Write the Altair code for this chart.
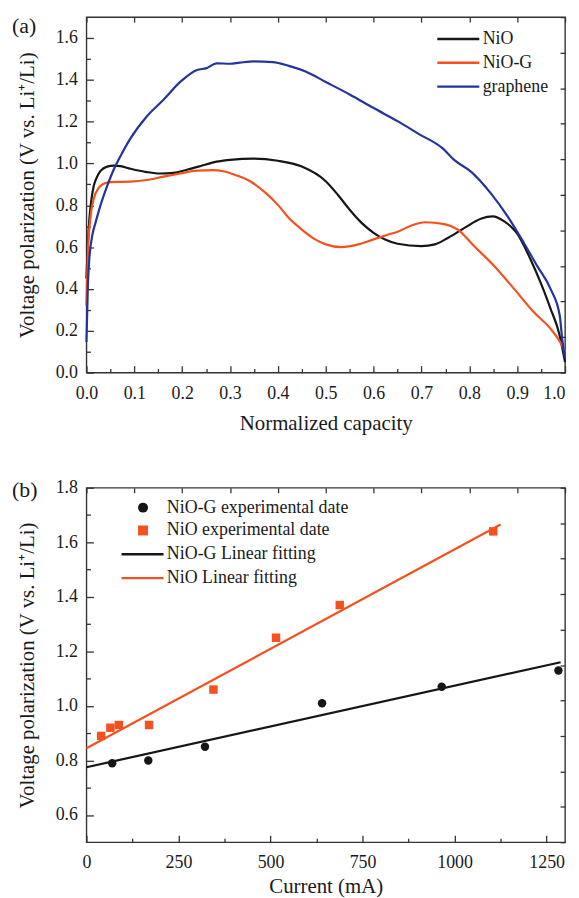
import altair as alt
import pandas as pd

FONT = "Liberation Serif"
BLACK = "#161616"
ORANGE = "#f4511e"
BLUE = "#23349c"
TICK = "#333333"
TXT = "#1a1a1a"

# ---------------- panel (a): voltage polarization vs normalized capacity
cap_nio = [0.0, 0.003, 0.006, 0.01, 0.015, 0.02, 0.029, 0.043, 0.057, 0.071, 0.092, 0.126,
           0.154, 0.182, 0.21, 0.2375, 0.265, 0.30, 0.35, 0.40, 0.45, 0.50, 0.526, 0.55,
           0.575, 0.60, 0.624, 0.65, 0.70, 0.728, 0.755, 0.79, 0.824, 0.849, 0.873, 0.899,
           0.928, 0.949, 0.97, 0.987, 1.0]
v_nio = [0.45, 0.62, 0.73, 0.82, 0.89, 0.925, 0.963, 0.985, 0.99, 0.987, 0.975, 0.959,
         0.952, 0.955, 0.97, 0.987, 1.005, 1.017, 1.023, 1.013, 0.985, 0.915, 0.848, 0.779,
         0.716, 0.668, 0.636, 0.616, 0.605, 0.613, 0.644, 0.692, 0.736, 0.747, 0.723, 0.668,
         0.541, 0.43, 0.304, 0.193, 0.05]

cap_niog = [0.0, 0.003, 0.008, 0.015, 0.026, 0.036, 0.05, 0.092, 0.126, 0.161, 0.196, 0.231,
            0.265, 0.286, 0.314, 0.342, 0.375, 0.40, 0.423, 0.45, 0.478, 0.50, 0.533, 0.568,
            0.60, 0.631, 0.6515, 0.679, 0.707, 0.748, 0.776, 0.81, 0.852, 0.894, 0.935, 0.97,
            0.99, 1.0]
v_niog = [0.32, 0.575, 0.733, 0.829, 0.884, 0.903, 0.911, 0.913, 0.921, 0.937, 0.952, 0.966,
          0.968, 0.963, 0.943, 0.915, 0.858, 0.802, 0.739, 0.684, 0.637, 0.613, 0.600, 0.613,
          0.637, 0.66, 0.675, 0.703, 0.719, 0.71, 0.684, 0.605, 0.51, 0.399, 0.288, 0.209,
          0.145, 0.10]

cap_gr = [0.0, 0.003, 0.006, 0.012, 0.019, 0.029, 0.043, 0.057, 0.071, 0.092, 0.126, 0.161,
          0.196, 0.231, 0.251, 0.272, 0.30, 0.32, 0.35, 0.389, 0.423, 0.458, 0.50, 0.55,
          0.60, 0.652, 0.693, 0.745, 0.769, 0.804, 0.845, 0.88, 0.914, 0.942, 0.97, 0.989,
          0.994, 1.0]
v_gr = [0.146, 0.416, 0.543, 0.654, 0.717, 0.797, 0.89, 0.971, 1.035, 1.12, 1.225, 1.305,
        1.39, 1.447, 1.456, 1.479, 1.477, 1.482, 1.488, 1.485, 1.467, 1.44, 1.39, 1.33,
        1.265, 1.20, 1.143, 1.071, 1.016, 0.96, 0.857, 0.747, 0.62, 0.509, 0.399, 0.272,
        0.161, 0.07]

series_a = ["NiO", "NiO-G", "graphene"]
colors_a = [BLACK, ORANGE, BLUE]

# ---------------- panel (b): voltage polarization vs current
cur_niog = [70, 168, 322, 640, 965, 1282]
pol_niog = [0.79, 0.80, 0.85, 1.01, 1.07, 1.13]
cur_nio = [40, 65, 88, 170, 345, 515, 688, 1105]
pol_nio = [0.89, 0.92, 0.93, 0.93, 1.06, 1.25, 1.37, 1.64]
fit_niog_cur = [0, 1288]
fit_niog_pol = [0.775, 1.16]
fit_nio_cur = [0, 1125]
fit_nio_pol = [0.845, 1.665]

pts_series = ["NiO-G experimental date", "NiO experimental date"]
fit_series = ["NiO-G Linear fitting", "NiO Linear fitting"]

# ---------------- tables
df_a = pd.concat([
    pd.DataFrame({"x": cap_nio, "y": v_nio, "s": series_a[0]}),
    pd.DataFrame({"x": cap_niog, "y": v_niog, "s": series_a[1]}),
    pd.DataFrame({"x": cap_gr, "y": v_gr, "s": series_a[2]}),
], ignore_index=True)

df_pts = pd.concat([
    pd.DataFrame({"x": cur_niog, "y": pol_niog, "s": pts_series[0]}),
    pd.DataFrame({"x": cur_nio, "y": pol_nio, "s": pts_series[1]}),
], ignore_index=True)

df_fit = pd.concat([
    pd.DataFrame({"x": fit_niog_cur, "y": fit_niog_pol, "s": fit_series[0]}),
    pd.DataFrame({"x": fit_nio_cur, "y": fit_nio_pol, "s": fit_series[1]}),
], ignore_index=True)

W, H_A, H_B = 482, 358, 357
MAJ, MIN, OUT = 7, 4, 5
DY_B = 470  # vertical distance between the two plot areas (legends live at the root)
LINE_SYMBOL = "M-2.35,0L2.35,0"


def major_axis(values, fmt, title, orient, lpad, tpad, align=None):
    kw = dict(values=values, format=fmt, title=title, orient=orient,
              tickSize=MAJ, offset=-MAJ, domain=False, grid=False,
              labelPadding=lpad, titlePadding=tpad, labelFlush=False,
              labelOverlap=False, labelFont=FONT, labelFontSize=18,
              titleFont=FONT, titleFontSize=21, titleFontWeight="normal")
    if align is not None:
        kw["labelAlign"] = align
    return alt.Axis(**kw)


def bare_axis(values, orient, size):
    return alt.Axis(values=values, orient=orient, tickSize=size, offset=-size,
                    domain=False, grid=False, labels=False, title=None,
                    minExtent=0, maxExtent=0)


def panel(line_layers, xdom, ydom, xmaj, xmin, xout, ymaj, ymin, yout,
          xfmt, yfmt, xtitle, tag, tag_y, h, data_any, xlpad, xtpad, xalign=None):
    xs = alt.Scale(domain=xdom, nice=False, zero=False)
    ys = alt.Scale(domain=ydom, nice=False, zero=False)
    ytitle = "Voltage polarization (V vs. Li\u207a/Li)"
    layers = []
    for i, (chart, enc) in enumerate(line_layers):
        if i == 0:
            xa = major_axis(xmaj, xfmt, xtitle, "bottom", xlpad, xtpad, xalign)
            ya = major_axis(ymaj, yfmt, ytitle, "left", 9, 18)
        else:
            xa = None
            ya = None
        kw = dict(x=alt.X("x:Q", scale=xs, axis=xa), y=alt.Y("y:Q", scale=ys, axis=ya))
        kw.update(enc)
        layers.append(chart.encode(**kw))
    minor = alt.Chart(data_any).mark_point(opacity=0).encode(
        x=alt.X("x:Q", scale=xs, axis=bare_axis(xmin, "bottom", MIN)),
        y=alt.Y("y:Q", scale=ys, axis=bare_axis(ymin, "left", MIN)))
    outer = alt.Chart(data_any).mark_point(opacity=0).encode(
        x=alt.X("x:Q", scale=xs, axis=bare_axis(xout, "top", OUT)),
        y=alt.Y("y:Q", scale=ys, axis=bare_axis(yout, "right", OUT)))
    label = alt.Chart(pd.DataFrame({"t": [tag]})).mark_text(
        font=FONT, fontSize=22, align="left", baseline="top", color=TXT
    ).encode(text="t:N", x=alt.value(-75), y=alt.value(tag_y))
    return alt.layer(*layers, minor, outer, label).resolve_axis(
        x="independent", y="independent").properties(width=W, height=h)


def line_legend(x, y, offset):
    return alt.Legend(orient="none", legendX=x, legendY=y, title=None,
                      symbolType=LINE_SYMBOL, symbolSize=324, symbolStrokeWidth=2.4,
                      labelOffset=offset, rowPadding=4, padding=0, labelLimit=400,
                      labelFont=FONT, labelFontSize=18, labelColor=TXT)


# panel (a)
lines_a = alt.Chart(df_a).mark_line(strokeWidth=2.2, interpolate="monotone")
enc_a = dict(color=alt.Color("s:N", scale=alt.Scale(domain=series_a, range=colors_a),
                             legend=line_legend(364, 11.5, 14)))

xa_maj = [round(i * 0.1, 1) for i in range(11)]
xa_min = [round(0.05 + i * 0.1, 2) for i in range(10)]
xa_out = [round(i * 0.1, 1) for i in range(11)]
ya_maj = [round(i * 0.2, 1) for i in range(9)]
ya_min = [round(0.1 + i * 0.2, 1) for i in range(8)]
ya_out = [round(i * 0.17, 2) for i in range(11)]

last_right = {"condition": {"test": "datum.value >= 0.99", "value": "right"}, "value": "center"}
top = panel([(lines_a, enc_a)], [0, 1], [0, 1.7], xa_maj, xa_min, xa_out,
            ya_maj, ya_min, ya_out, ".1f", ".1f", "Normalized capacity", "(a)", -1, H_A, df_a,
            12, 10, xalign=last_right)

# panel (b)
pts_b = alt.Chart(df_pts).mark_point(filled=True, size=72, opacity=1, strokeWidth=0)
pts_legend = alt.Legend(orient="none", legendX=48, legendY=15 + DY_B, title=None,
                        labelOffset=15, rowPadding=5, padding=0, labelLimit=400,
                        labelFont=FONT, labelFontSize=18, labelColor=TXT)
enc_pts = dict(
    shape=alt.Shape("s:N", scale=alt.Scale(domain=pts_series, range=["circle", "square"]),
                    legend=pts_legend),
    fill=alt.Fill("s:N", scale=alt.Scale(domain=pts_series, range=[BLACK, ORANGE]),
                  legend=pts_legend))
fit_b = alt.Chart(df_fit).mark_line(strokeWidth=2.2)
enc_fit = dict(stroke=alt.Stroke("s:N", scale=alt.Scale(domain=fit_series, range=[BLACK, ORANGE]),
                                 legend=line_legend(46, 60.5 + DY_B, 14)))

xb_maj = [0, 250, 500, 750, 1000, 1250]
xb_min = [125, 375, 625, 875, 1125]
xb_out = [i * 130 for i in range(11)]
yb_maj = [round(0.6 + i * 0.2, 1) for i in range(7)]
yb_min = [round(0.7 + i * 0.2, 1) for i in range(6)]
yb_out = [round(0.5 + i * 0.13, 2) for i in range(11)]

bottom = panel([(fit_b, enc_fit), (pts_b, enc_pts)], [0, 1300], [0.5, 1.8], xb_maj, xb_min,
               xb_out, yb_maj, yb_min, yb_out, "d", ".1f", "Current (mA)", "(b)", -8, H_B,
               df_pts, 11, 5)

chart = alt.vconcat(top, bottom, spacing=44).properties(
    padding={"left": 3, "top": 3, "right": 0, "bottom": 0}
).configure_view(stroke=TICK, strokeWidth=1.4).configure_axis(
    labelFont=FONT, labelFontSize=18, labelColor=TXT,
    titleFont=FONT, titleFontSize=21, titleFontWeight="normal", titleColor=TXT,
    tickColor=TICK, tickWidth=1.3
).configure_legend(labelFont=FONT, labelFontSize=18, labelColor=TXT)

chart.save("out.html", embed_options={"renderer": "svg", "actions": False})
